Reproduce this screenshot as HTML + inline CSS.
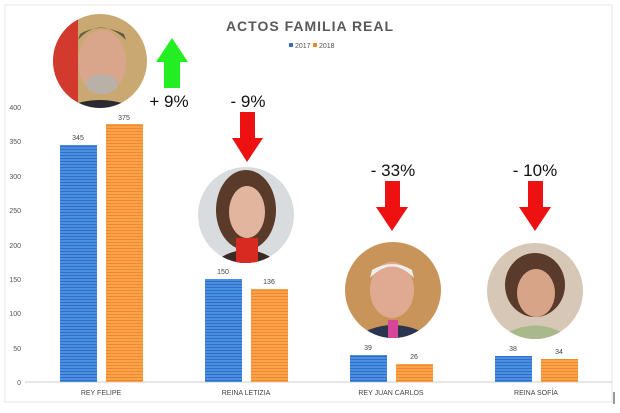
<!DOCTYPE html><html><head><style>body{margin:0;background:#fff}svg{display:block}</style></head><body>
<svg width="620" height="413" viewBox="0 0 620 413" xmlns="http://www.w3.org/2000/svg" font-family="Liberation Sans, sans-serif">
<defs>
<pattern id="pb" width="4" height="3" patternUnits="userSpaceOnUse"><rect width="4" height="3" fill="#4a8fe0"/><rect y="2" width="4" height="1" fill="#2f6fc8"/></pattern>
<pattern id="po" width="4" height="3" patternUnits="userSpaceOnUse"><rect width="4" height="3" fill="#fba24c"/><rect y="2" width="4" height="1" fill="#ef8a2c"/></pattern>
</defs>
<rect x="5" y="5" width="607" height="397" fill="#fff" stroke="#e4e4e4"/>
<line x1="614" y1="392" x2="614" y2="404" stroke="#333"/>
<text x="310" y="31" text-anchor="middle" font-size="14" font-weight="bold" fill="#595959" letter-spacing="1">ACTOS FAMILIA REAL</text>
<rect x="289" y="43" width="4" height="4" fill="#2f6fc8"/><text x="295" y="48" font-size="7" fill="#555">2017</text>
<rect x="313" y="43" width="4" height="4" fill="#ef8a2c"/><text x="319" y="48" font-size="7" fill="#555">2018</text>
<g font-size="7" fill="#555" text-anchor="end">
<text x="21" y="110">400</text><text x="21" y="144">350</text><text x="21" y="179">300</text><text x="21" y="213">250</text><text x="21" y="248">200</text><text x="21" y="282">150</text><text x="21" y="316">100</text><text x="21" y="351">50</text><text x="21" y="385">0</text>
</g>
<line x1="25" y1="382" x2="612" y2="382" stroke="#ccc"/>
<rect x="60" y="145" width="37" height="237" fill="url(#pb)"/>
<rect x="106" y="124" width="37" height="258" fill="url(#po)"/>
<rect x="205" y="279" width="37" height="103" fill="url(#pb)"/>
<rect x="251" y="289" width="37" height="93" fill="url(#po)"/>
<rect x="350" y="355" width="37" height="27" fill="url(#pb)"/>
<rect x="396" y="364" width="37" height="18" fill="url(#po)"/>
<rect x="495" y="356" width="37" height="26" fill="url(#pb)"/>
<rect x="541" y="359" width="37" height="23" fill="url(#po)"/>
<g font-size="7" fill="#444" text-anchor="middle">
<text x="78" y="140">345</text><text x="124" y="120">375</text>
<text x="223" y="274">150</text><text x="269" y="284">136</text>
<text x="368" y="350">39</text><text x="414" y="359">26</text>
<text x="513" y="351">38</text><text x="559" y="354">34</text>
<text x="101" y="395">REY FELIPE</text><text x="246" y="395">REINA LETIZIA</text><text x="391" y="395">REY JUAN CARLOS</text><text x="536" y="395">REINA SOFÍA</text>
</g>
<!-- photos -->
<clipPath id="c1"><circle cx="100" cy="61" r="47"/></clipPath>
<g clip-path="url(#c1)"><rect x="50" y="10" width="100" height="100" fill="#c9a971"/><rect x="50" y="10" width="28" height="100" fill="#d23a2e"/><ellipse cx="102" cy="62" rx="24" ry="32" fill="#d9a68b"/><path d="M78 40 Q100 15 126 40 L124 34 Q100 22 80 34Z" fill="#6b5a4a"/><ellipse cx="102" cy="84" rx="16" ry="10" fill="#b9b0a8"/><path d="M60 110 Q100 90 140 110Z" fill="#2a2a33"/></g>
<clipPath id="c2"><circle cx="246" cy="215" r="48"/></clipPath>
<g clip-path="url(#c2)"><rect x="195" y="165" width="100" height="100" fill="#d9dcde"/><ellipse cx="246" cy="210" rx="30" ry="40" fill="#5a3a28"/><ellipse cx="247" cy="212" rx="18" ry="26" fill="#e2b59e"/><path d="M210 265 Q246 235 282 265Z" fill="#3a2a25"/><rect x="236" y="238" width="22" height="30" fill="#d92a22"/></g>
<clipPath id="c3"><circle cx="393" cy="290" r="48"/></clipPath>
<g clip-path="url(#c3)"><rect x="343" y="240" width="100" height="100" fill="#c8945a"/><ellipse cx="392" cy="290" rx="22" ry="28" fill="#e0aa92"/><path d="M370 278 Q392 255 414 278 L412 270 Q392 258 372 270Z" fill="#eee"/><path d="M350 340 Q393 310 436 340Z" fill="#2c3550"/><rect x="388" y="320" width="10" height="20" fill="#d8469a"/></g>
<clipPath id="c4"><circle cx="535" cy="291" r="48"/></clipPath>
<g clip-path="url(#c4)"><rect x="485" y="241" width="100" height="100" fill="#d6c7b6"/><ellipse cx="535" cy="285" rx="30" ry="32" fill="#5a3a2a"/><ellipse cx="536" cy="293" rx="19" ry="24" fill="#d8a488"/><path d="M495 341 Q535 310 575 341Z" fill="#a9b98c"/></g>
<!-- arrows -->
<path d="M164 88 L180 88 L180 62 L188 62 L172 38 L156 62 L164 62Z" fill="#22ee22"/>
<path d="M240 112 L255 112 L255 138 L263 138 L247 162 L232 138 L240 138Z" fill="#ee1111"/>
<path d="M385 181 L400 181 L400 207 L408 207 L392 231 L376 207 L385 207Z" fill="#ee1111"/>
<path d="M528 181 L543 181 L543 207 L551 207 L535 231 L519 207 L528 207Z" fill="#ee1111"/>
<g font-size="17" fill="#111" text-anchor="middle">
<text x="169" y="107">+ 9%</text><text x="248" y="107">- 9%</text><text x="393" y="176">- 33%</text><text x="535" y="176">- 10%</text>
</g>
</svg>
</body></html>
